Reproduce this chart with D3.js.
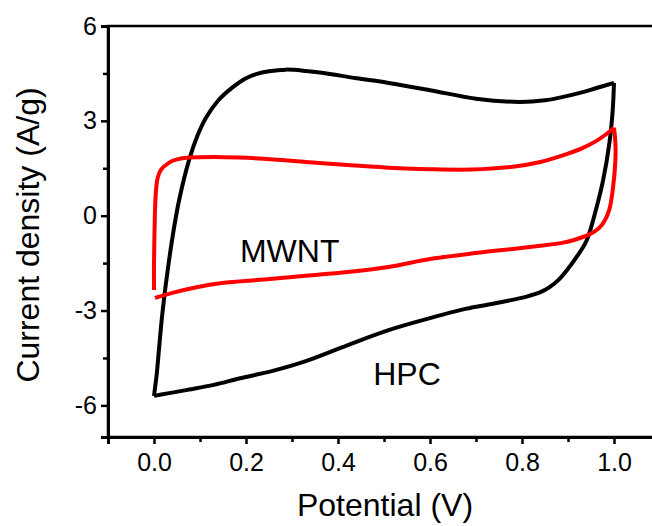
<!DOCTYPE html>
<html>
<head>
<meta charset="utf-8">
<script src="https://cdn.jsdelivr.net/npm/d3@7"></script>
<style>
	body{ margin:0; background:#fff; }
	svg{ display:block; font-family:"Liberation Sans", Arial, sans-serif; }
</style>
</head>
<body>
<div id="chart"></div>
<script>
// HPC loop, forward sweep then reverse sweep: [potential (V), current density (A/g)]
var hpcForward = [[0.000,-5.70],[0.006,-5.00],[0.011,-4.20],[0.016,-3.40],[0.022,-2.60],[0.030,-1.70],[0.040,-0.70],[0.054,0.45],[0.076,1.75],[0.095,2.55],[0.113,3.10],[0.140,3.65],[0.170,4.05],[0.200,4.35],[0.222,4.48],[0.250,4.57],[0.287,4.62],[0.330,4.58],[0.365,4.52],[0.440,4.35],[0.510,4.20],[0.600,3.97],[0.700,3.70],[0.793,3.60],[0.850,3.65],[0.887,3.75],[0.930,3.90],[0.960,4.03],[1.000,4.20]];
var hpcReverse = [[1.000,4.20],[0.997,3.30],[0.990,2.30],[0.976,1.10],[0.960,0.15],[0.940,-0.80],[0.918,-1.32],[0.900,-1.68],[0.880,-2.02],[0.860,-2.26],[0.840,-2.42],[0.810,-2.56],[0.770,-2.69],[0.720,-2.83],[0.670,-2.97],[0.600,-3.24],[0.510,-3.62],[0.420,-4.10],[0.330,-4.60],[0.260,-4.90],[0.185,-5.15],[0.130,-5.35],[0.076,-5.50],[0.030,-5.62],[0.000,-5.70]];
// MWNT loop
var mwntForward = [[0.000,-2.35],[0.000,-1.50],[0.001,-0.57],[0.003,0.48],[0.005,0.90],[0.008,1.20],[0.015,1.45],[0.033,1.68],[0.050,1.78],[0.076,1.84],[0.130,1.86],[0.185,1.84],[0.260,1.78],[0.330,1.70],[0.420,1.60],[0.510,1.52],[0.600,1.47],[0.690,1.46],[0.780,1.55],[0.840,1.70],[0.887,1.90],[0.930,2.13],[0.960,2.35],[0.985,2.60],[1.000,2.78]];
var mwntReverse = [[1.000,2.78],[1.003,2.30],[1.003,1.75],[0.998,0.90],[0.990,0.20],[0.980,-0.15],[0.967,-0.40],[0.945,-0.60],[0.915,-0.76],[0.887,-0.86],[0.840,-0.95],[0.780,-1.05],[0.700,-1.18],[0.600,-1.37],[0.510,-1.62],[0.420,-1.78],[0.330,-1.90],[0.240,-2.02],[0.148,-2.13],[0.090,-2.27],[0.040,-2.44],[0.002,-2.60]];

var xTicks = [0, 0.2, 0.4, 0.6, 0.8, 1.0],
	xMinor = [-0.1, 0.1, 0.3, 0.5, 0.7, 0.9],
	yTicks = [6, 3, 0, -3, -6],
	yMinor = [4.5, 1.5, -1.5, -4.5];

var W = 652, H = 526,
	plotL = 108, plotR = 660, plotT = 26, plotB = 437;

var x = d3.scaleLinear().domain([-0.1, 1.1]).range([plotL, plotR]),
	y = d3.scaleLinear().domain([-7, 6]).range([plotB, plotT]);

var svg = d3.select("#chart").append("svg")
	.attr("width", W)
	.attr("height", H);

// frame (right edge falls outside the picture)
svg.append("rect")
	.attr("x", plotL).attr("y", plotT)
	.attr("width", plotR - plotL).attr("height", plotB - plotT)
	.attr("fill", "none").attr("stroke", "#000").attr("stroke-width", 2.5);

var line = d3.line()
	.x(function(d){ return x(d[0]); })
	.y(function(d){ return y(d[1]); })
	.curve(d3.curveCatmullRom.alpha(0.5));

function drawLoop(fwd, rev, color){
	[fwd, rev].forEach(function(seg){
		svg.append("path")
			.attr("d", line(seg))
			.attr("fill", "none")
			.attr("stroke", color)
			.attr("stroke-width", 4)
			.attr("stroke-linejoin", "round")
			.attr("stroke-linecap", "butt");
	});
}
drawLoop(hpcForward, hpcReverse, "#000");
drawLoop(mwntForward, mwntReverse, "#ff0000");

// plain hyphen for negatives, like the original
var fmtY = function(d){ return String(d); };

// bottom axis
var xAxis = svg.append("g").attr("transform", "translate(0," + plotB + ")")
	.call(d3.axisBottom(x).tickValues(xTicks).tickSize(7).tickPadding(9).tickFormat(d3.format(".1f")));
var xm = svg.append("g").attr("transform", "translate(0," + plotB + ")")
	.call(d3.axisBottom(x).tickValues(xMinor).tickSize(5).tickFormat(""));

// left axis
var yAxis = svg.append("g").attr("transform", "translate(" + plotL + ",0)")
	.call(d3.axisLeft(y).tickValues(yTicks).tickSize(7).tickPadding(4).tickFormat(fmtY));
var ym = svg.append("g").attr("transform", "translate(" + plotL + ",0)")
	.call(d3.axisLeft(y).tickValues(yMinor).tickSize(5).tickFormat(""));

[xAxis, xm, yAxis, ym].forEach(function(g){
	g.attr("font-size", 25).attr("font-family", "'Liberation Sans', Arial, sans-serif");
	g.select(".domain").attr("stroke", "#000").attr("stroke-width", 3);
	g.selectAll(".tick line").attr("stroke", "#000").attr("stroke-width", 2.5);
	g.selectAll(".tick text").attr("fill", "#000");
});

// axis titles
svg.append("text")
	.attr("x", 385).attr("y", 516)
	.attr("text-anchor", "middle")
	.style("font-size", "32px")
	.text("Potential (V)");
svg.append("text")
	.attr("transform", "translate(39,235) rotate(-90)")
	.attr("text-anchor", "middle")
	.style("font-size", "32px")
	.text("Current density (A/g)");

// curve labels
svg.append("text")
	.attr("x", x(0.295)).attr("y", y(-1.47))
	.attr("text-anchor", "middle")
	.style("font-size", "32px")
	.text("MWNT");
svg.append("text")
	.attr("x", x(0.55)).attr("y", y(-5.36))
	.attr("text-anchor", "middle")
	.style("font-size", "32px")
	.text("HPC");
</script>
</body>
</html>
